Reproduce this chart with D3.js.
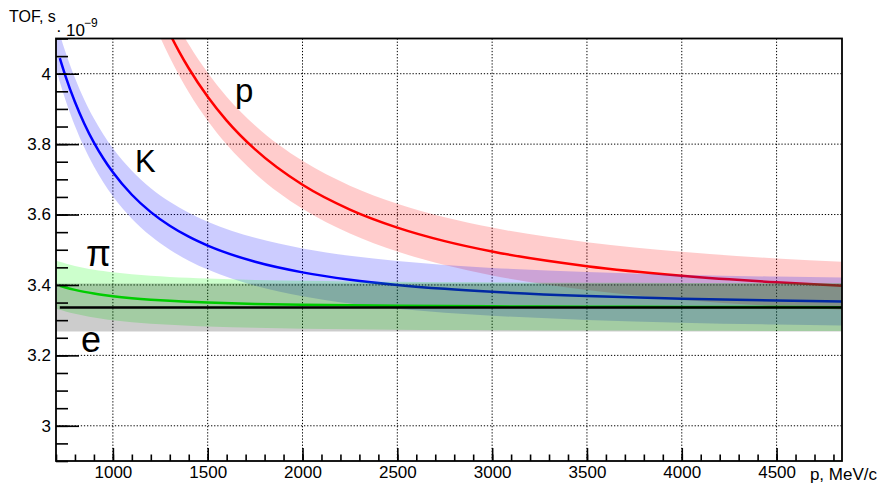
<!DOCTYPE html>
<html><head><meta charset="utf-8">
<script src="https://cdn.jsdelivr.net/npm/d3@7/dist/d3.min.js"></script>
<style>
body{margin:0;background:#fff}
svg{display:block}
text{font-family:"Liberation Sans",Arial,Helvetica,sans-serif;fill:#000}
</style>
</head><body>
<svg id="chart" width="883" height="483"></svg>
<script>
// ---------- data (TOF in units of 1e-9 s) ----------
const momentum = [700,720,750,800,850,900,950,1000,1100,1200,1300,1400,1500,1750,2000,2250,2500,2750,3000,3500,4000,4500,4850];
const tofElectron = [3.336,3.336,3.336,3.336,3.336,3.336,3.336,3.336,3.336,3.336,3.336,3.336,3.336,3.336,3.336,3.336,3.336,3.336,3.336,3.336,3.336,3.336,3.336];
const tofPion = [3.4013,3.3977,3.3929,3.3860,3.3803,3.3755,3.3715,3.3680,3.3624,3.3581,3.3548,3.3522,3.3501,3.3462,3.3438,3.3421,3.3408,3.3399,3.3393,3.3383,3.3377,3.3372,3.3370];
const tofKaon = [4.0818,4.0444,3.9934,3.9196,3.8574,3.8045,3.7592,3.7200,3.6562,3.6069,3.5681,3.5370,3.5117,3.4658,3.4358,3.4150,3.4001,3.3890,3.3805,3.3687,3.3610,3.3557,3.3529];
const momentumProton = [1250,1300,1350,1400,1500,1600,1750,2000,2250,2500,2750,3000,3500,4000,4500,4850];
const tofProton = [4.1708,4.1137,4.0622,4.0155,3.9345,3.8669,3.7849,3.6845,3.6141,3.5629,3.5245,3.4950,3.4534,3.4262,3.4074,3.3975];
const bandHalfWidth = 0.068;   // resolution band (+/-) around each curve
const lineStartP = 720;        // curves start here, bands at the axis

const xTickLabels = [1000,1500,2000,2500,3000,3500,4000,4500];
const yTickLabels = [3,3.2,3.4,3.6,3.8,4];

const particleLabels = [
  {text:"p", p:1644, t:3.920, size:33},
  {text:"K", p:1117, t:3.721, size:31},
  {text:"π", p:858,  t:3.454, size:36},
  {text:"e", p:832,  t:3.210, size:36}
];

// drawing order: p, K, pi, e
const species = [
  {name:"p",  ps:momentumProton, ts:tofProton,   color:"#ff0000"},
  {name:"K",  ps:momentum,       ts:tofKaon,     color:"#0000ff"},
  {name:"pi", ps:momentum,       ts:tofPion,     color:"#00ff00"},
  {name:"e",  ps:momentum,       ts:tofElectron, color:"#000000"}
];

// ---------- layout ----------
const svg = d3.select("#chart");
const L = 56, R = 842, T = 38.5, B = 461;
const x = d3.scaleLinear().domain([700, 4845]).range([L, R]);
const y = d3.scaleLinear().domain([2.9, 4.1]).range([B, T]);

svg.append("defs").append("clipPath").attr("id","plotclip")
  .append("rect").attr("x",L).attr("y",T).attr("width",R-L).attr("height",B-T);

// grid
const grid = svg.append("g");
grid.selectAll(".gx").data(xTickLabels).enter().append("line")
  .attr("x1",d=>x(d)).attr("x2",d=>x(d)).attr("y1",T).attr("y2",B)
  .attr("stroke","#000").attr("stroke-width",1).attr("stroke-dasharray","1.3 1.8");
grid.selectAll(".gy").data(yTickLabels).enter().append("line")
  .attr("x1",L).attr("x2",R).attr("y1",d=>y(d)).attr("y2",d=>y(d))
  .attr("stroke","#000").attr("stroke-width",1).attr("stroke-dasharray","1.3 1.8");

// bands and curves
const plot = svg.append("g").attr("clip-path","url(#plotclip)");
species.forEach(s => {
  const pts = s.ps.map((p,i)=>({p, t:s.ts[i]}));
  const area = d3.area().curve(d3.curveMonotoneX)
    .x(d=>x(d.p)).y0(d=>y(d.t - bandHalfWidth)).y1(d=>y(d.t + bandHalfWidth));
  plot.append("path").datum(pts).attr("d",area)
    .attr("fill",s.color).attr("fill-opacity",0.2).attr("stroke","none");
  const line = d3.line().curve(d3.curveMonotoneX).x(d=>x(d.p)).y(d=>y(d.t));
  plot.append("path").datum(pts.filter(d=>d.p>=lineStartP)).attr("d",line)
    .attr("fill","none").attr("stroke",s.color).attr("stroke-width",2.5);
});

// particle labels
svg.selectAll(".plab").data(particleLabels).enter().append("text")
  .attr("x",d=>x(d.p)).attr("y",d=>y(d.t))
  .attr("font-size",d=>d.size).text(d=>d.text);

// axes (ROOT style: ticks pointing inward)
const xMinor = d3.range(700, 4846, 100);
const yMinor = d3.range(0, 25).map(i => +(2.9 + i*0.05).toFixed(2));

svg.append("g").attr("transform",`translate(0,${B})`)
  .call(d3.axisBottom(x).tickValues(xMinor).tickSize(-6.5).tickFormat(""))
  .call(g=>g.select(".domain").remove());
const gx = svg.append("g").attr("transform",`translate(0,${B})`)
  .call(d3.axisBottom(x).tickValues(xTickLabels).tickSize(-13).tickPadding(5).tickFormat(d3.format("d")));
gx.select(".domain").remove();
gx.selectAll("text").attr("font-size",17).attr("font-family",null);

svg.append("g").attr("transform",`translate(${L},0)`)
  .call(d3.axisLeft(y).tickValues(yMinor).tickSize(-12).tickFormat(""))
  .call(g=>g.select(".domain").remove());
const gy = svg.append("g").attr("transform",`translate(${L},0)`)
  .call(d3.axisLeft(y).tickValues(yTickLabels).tickSize(-23).tickPadding(5).tickFormat(d=>d3.format("")(d)));
gy.select(".domain").remove();
gy.selectAll("text").attr("font-size",17).attr("font-family",null);
svg.selectAll(".tick line").attr("stroke","#000").attr("stroke-width",1.6);

// frame
svg.append("rect").attr("x",L).attr("y",T).attr("width",R-L).attr("height",B-T)
  .attr("fill","none").attr("stroke","#000").attr("stroke-width",1.8);

// titles
svg.append("text").attr("x",9).attr("y",22).attr("font-size",16).text("TOF, s");
svg.append("text").attr("x",56).attr("y",36).attr("font-size",17).text("·");
svg.append("text").attr("x",66).attr("y",36).attr("font-size",17).text("10");
svg.append("text").attr("x",84).attr("y",27).attr("font-size",12).text("−9");
svg.append("text").attr("x",877).attr("y",480).attr("font-size",17)
  .attr("text-anchor","end").text("p, MeV/c");
</script>
</body></html>
